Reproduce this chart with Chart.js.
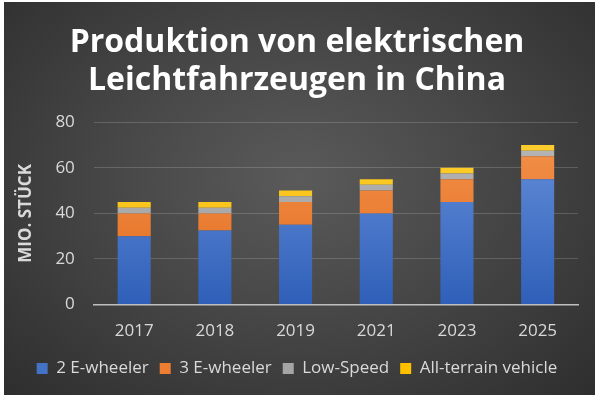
<!DOCTYPE html>
<html>
<head>
<meta charset="utf-8">
<script src="https://cdn.jsdelivr.net/npm/chart.js@4"></script>
<style>
  html, body { margin: 0; padding: 0; background: #fff; }
  .panel {
    position: absolute; left: 4px; top: 2px; width: 591px; height: 393px;
    background: radial-gradient(ellipse at 50% 45%, #5a5a5a 0%, #474747 45%, #2e2e2e 100%);
  }
  canvas { display: block; }
</style>
</head>
<body>
<div class="panel"><canvas id="chart" width="591" height="393"></canvas></div>
<script>
const years        = ['2017', '2018', '2019', '2021', '2023', '2025'];
const twoWheeler   = [30, 32.5, 35, 40, 45, 55];
const threeWheeler = [10, 7.5, 10, 10, 10, 10];
const lowSpeed     = [2.5, 2.5, 2.5, 2.5, 2.5, 2.5];
const allTerrain   = [2.5, 2.5, 2.5, 2.5, 2.5, 2.5];
const yTicks       = [0, 20, 40, 60, 80];

const FONT = "'Open Sans', sans-serif";
const TEXT = '#d9d9d9';

// vertical shading like the office bars
function shade(top, bottom) {
  return (ctx) => {
    const area = ctx.chart.chartArea;
    if (!area) return bottom;
    const g = ctx.chart.ctx.createLinearGradient(0, area.top, 0, area.bottom);
    g.addColorStop(0, top);
    g.addColorStop(1, bottom);
    return g;
  };
}

const series = [
  { label: '2 E-wheeler',         data: twoWheeler,   top: '#6a93dd', bottom: '#2f5fb8', flat: '#4472c4' },
  { label: '3 E-wheeler',         data: threeWheeler, top: '#f4944f', bottom: '#e26b1c', flat: '#ed7d31' },
  { label: 'Low-Speed',           data: lowSpeed,     top: '#b8b8b8', bottom: '#9a9a9a', flat: '#a5a5a5' },
  { label: 'All-terrain vehicle', data: allTerrain,   top: '#ffd033', bottom: '#f5b800', flat: '#ffc000' }
];

new Chart(document.getElementById('chart'), {
  type: 'bar',
  data: {
    labels: years,
    datasets: series.map(s => ({
      label: s.label,
      data: s.data,
      backgroundColor: shade(s.top, s.bottom),
      borderWidth: 0,
      barPercentage: 0.82,
      categoryPercentage: 0.5
    }))
  },
  options: {
    responsive: false,
    animation: false,
    layout: { padding: { left: 12, right: 17, top: 0, bottom: 8 } },
    plugins: {
      title: {
        display: true,
        text: ['Produktion von elektrischen', 'Leichtfahrzeugen in China'],
        color: '#ffffff',
        font: { family: FONT, size: 32, weight: 'bold', lineHeight: 1.19 },
        padding: { top: 22, bottom: 22 }
      },
      legend: {
        position: 'bottom',
        labels: {
          color: TEXT,
          font: { family: FONT, size: 17 },
          boxWidth: 11,
          boxHeight: 11,
          padding: 11,
          generateLabels: () => series.map((s, i) => ({
            text: s.label,
            fillStyle: s.flat,
            strokeStyle: s.flat,
            lineWidth: 0,
            fontColor: TEXT,
            datasetIndex: i
          }))
        }
      },
      tooltip: { enabled: false }
    },
    scales: {
      x: {
        stacked: true,
        grid: { display: false },
        border: { color: '#bfbfbf', width: 1.5 },
        ticks: { color: TEXT, font: { family: FONT, size: 17 }, padding: 8 }
      },
      y: {
        stacked: true,
        min: 0,
        max: 80,
        afterBuildTicks: (axis) => { axis.ticks = yTicks.map(v => ({ value: v })); },
        grid: { color: 'rgba(255,255,255,0.17)', drawTicks: false },
        border: { display: false },
        ticks: { color: TEXT, font: { family: FONT, size: 17 }, padding: 19 },
        title: {
          display: true,
          text: 'MIO. STÜCK',
          color: TEXT,
          font: { family: FONT, size: 17, weight: 'bold' },
          padding: { top: 0, bottom: 0 }
        }
      }
    }
  }
});
</script>
</body>
</html>
